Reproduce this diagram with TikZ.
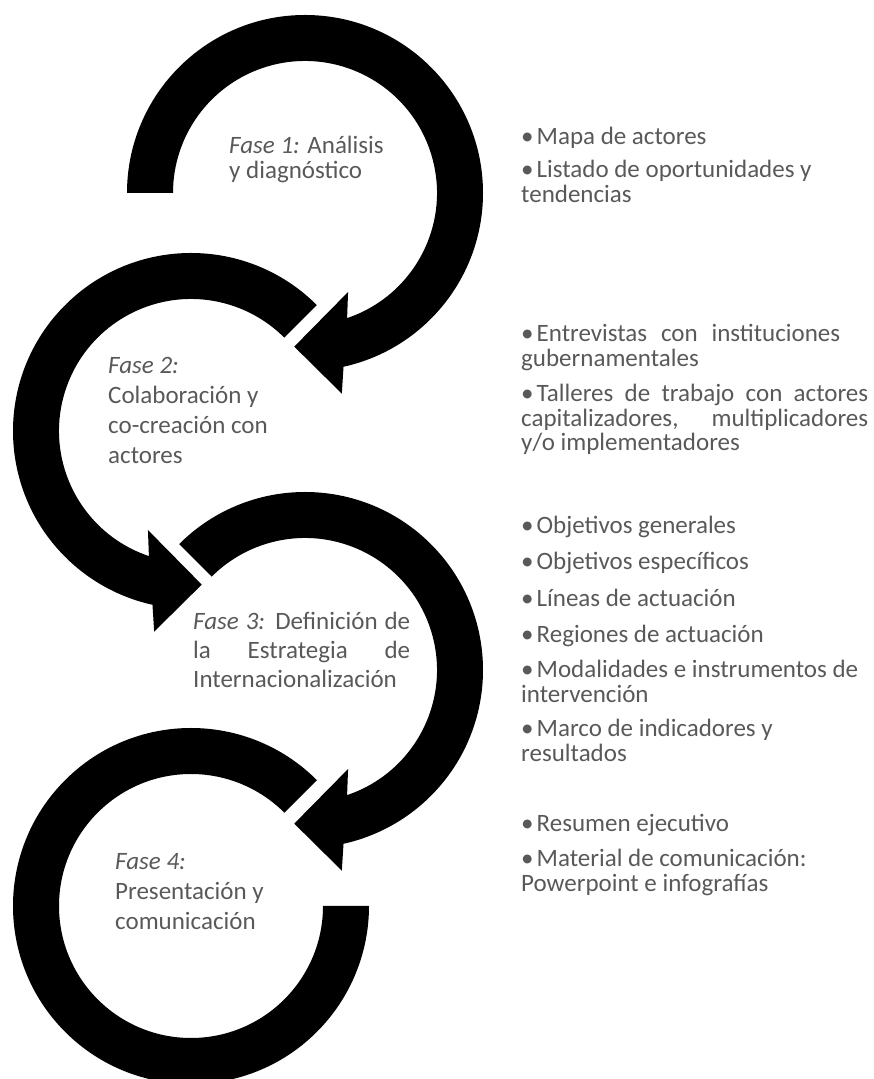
\documentclass[tikz,border=0pt]{standalone}
\usepackage{fontspec}
\setmainfont{Carlito}
\usepackage{tikz}
\usetikzlibrary{positioning}
\usepackage{xcolor}
\definecolor{fasegray}{RGB}{89,89,89}
\tikzstyle{cyclearrow} = [fill=black]
\tikzstyle{fase} = [anchor=base west, inner sep=0pt, align=left, text=fasegray, font=\fontsize{25}{30}\selectfont]
\tikzstyle{bulletitem} = [anchor=base west, inner sep=0pt, align=left, text=fasegray, font=\fontsize{25}{24.5}\selectfont]

\begin{document}
\begin{tikzpicture}[x=1pt, y=1pt]
\clip (0,0) rectangle (873,1079);

% Centres of the four circular arrows
\coordinate (c1) at (305,886);
\coordinate (c2) at (191,648);
\coordinate (c3) at (305,409);
\coordinate (c4) at (191,173);

% Circular arrows
\fill[cyclearrow, shift={(c1)}] (180:178) arc[start angle=180, end angle=-77.5, radius=178]
  -- (-79.6:204) -- (-94:154) -- (-66.5:108) -- (-71.4:132)
  arc[start angle=-71.4, end angle=180, radius=132] -- cycle;
\fill[cyclearrow, shift={(c2)}] (45:178) arc[start angle=45, end angle=257.5, radius=178]
  -- (259.6:204) -- (274:154) -- (246.5:108) -- (251.4:132)
  arc[start angle=251.4, end angle=45, radius=132] -- cycle;
\fill[cyclearrow, shift={(c3)}] (135:178) arc[start angle=135, end angle=-77.5, radius=178]
  -- (-79.6:204) -- (-94:154) -- (-66.5:108) -- (-71.4:132)
  arc[start angle=-71.4, end angle=135, radius=132] -- cycle;
\fill[cyclearrow, shift={(c4)}] (45:178) arc[start angle=45, end angle=360, radius=178]
  -- (0:132) arc[start angle=360, end angle=45, radius=132] -- cycle;

% Phases (anchored on the baseline of their last line)
\node[fase, font=\fontsize{25}{25}\selectfont] (fase1) at (229,900) {\textit{Fase 1:} Análisis\\y diagnóstico};
\node[fase] (fase2) at (108,615) {\textit{Fase 2:}\\Colaboración y\\co-creación con\\actores};
\node[fase, font=\fontsize{25}{29}\selectfont] (fase3) at (193,391) {\makebox[217pt][s]{\textit{Fase 3:} Definición de}\\\makebox[217pt][s]{la Estrategia de}\\Internacionalización};
\node[fase] (fase4) at (115,149) {\textit{Fase 4:}\\Presentación y\\comunicación};

% Results of phase 1
\node[bulletitem] (mapa) at (521,934) {•\hspace{3pt}Mapa de actores};
\node[bulletitem] (listado) at (521,876.5) {•\hspace{3pt}Listado de oportunidades y\\tendencias};

% Results of phase 2
\node[bulletitem] (entrevistas) at (521,712.5) {\makebox[319pt][s]{•\hspace{3pt}Entrevistas con instituciones}\\gubernamentales};
\node[bulletitem] (talleres) at (521,628) {\makebox[347pt][s]{•\hspace{3pt}Talleres de trabajo con actores}\\\makebox[347pt][s]{capitalizadores, multiplicadores}\\y/o implementadores};

% Results of phase 3
\node[bulletitem] (objgen) at (521,545) {•\hspace{3pt}Objetivos generales};
\node[bulletitem] (objesp) at (521,509) {•\hspace{3pt}Objetivos específicos};
\node[bulletitem] (lineas) at (521,472) {•\hspace{3pt}Líneas de actuación};
\node[bulletitem] (regiones) at (521,436) {•\hspace{3pt}Regiones de actuación};
\node[bulletitem] (modalidades) at (521,376.5) {•\hspace{3pt}Modalidades e instrumentos de\\intervención};
\node[bulletitem] (marco) at (521,317.5) {•\hspace{3pt}Marco de indicadores y\\resultados};

% Results of phase 4
\node[bulletitem] (resumen) at (521,247) {•\hspace{3pt}Resumen ejecutivo};
\node[bulletitem] (material) at (521,187.5) {•\hspace{3pt}Material de comunicación:\\Powerpoint e infografías};
\end{tikzpicture}
\end{document}
